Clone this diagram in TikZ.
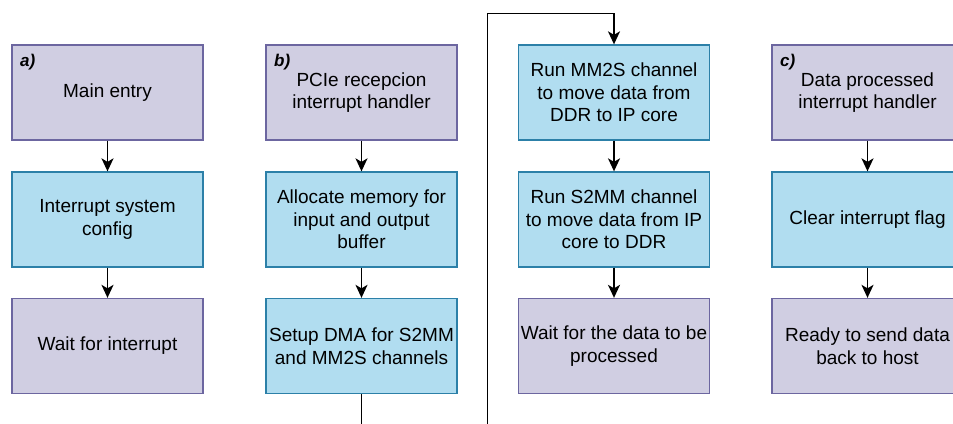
\documentclass[tikz,border=0pt]{standalone}
\usepackage{fontspec}
\setmainfont{Liberation Sans}
\usetikzlibrary{arrows.meta}
\definecolor{pfill}{HTML}{D0CEE2}
\definecolor{pdraw}{HTML}{6C66A0}
\definecolor{bfill}{HTML}{B1DDF0}
\definecolor{bdraw}{HTML}{2C80A8}
\begin{document}
\begin{tikzpicture}[x=1pt,y=-1pt,
 box/.style={draw, line width=1.3pt, minimum width=191pt, minimum height=95pt, align=center,
   font=\fontsize{19}{22.6}\selectfont, inner sep=0pt},
 pbox/.style={box, fill=pfill, draw=pdraw},
 bbox/.style={box, fill=bfill, draw=bdraw},
 arr/.style={-{Stealth[length=13pt,width=12pt,inset=3.5pt]}, line width=1.7pt},
 ln/.style={line width=1.7pt},
 tag/.style={font=\fontsize{17}{20}\selectfont\bfseries\itshape, anchor=west, inner sep=0pt}]
\useasboundingbox (0,0) rectangle (953,423);
\clip (0,0) rectangle (953,423);
% column a
\node[pbox] (a1) at (107.5,92.5) {Main entry};
\node[bbox] (a2) at (107.5,219.5) {Interrupt system\\config};
\node[pbox] (a3) at (107.5,346) {Wait for interrupt};
% column b
\node[pbox] (b1) at (361.5,92.5) {PCIe recepcion\\interrupt handler};
\node[bbox] (b2) at (361.5,219.5) {Allocate memory for\\input and output\\buffer};
\node[bbox] (b3) at (361.5,346) {Setup DMA for S2MM\\and MM2S channels};
% column b continued
\node[bbox] (m1) at (614,92.5) {Run MM2S channel\\to move data from\\DDR to IP core};
\node[bbox] (m2) at (614,219.5) {Run S2MM channel\\to move data from IP\\core to DDR};
\node[pbox] (m3) at (614,346) {Wait for the data to be\\processed};
% column c
\node[pbox] (c1) at (867.5,92.5) {Data processed\\interrupt handler};
\node[bbox] (c2) at (867.5,219.5) {Clear interrupt flag};
\node[pbox] (c3) at (867.5,346) {Ready to send data\\back to host};
% tags
\node[tag] (ta) at (20,62) {a)};
\node[tag] (tb) at (274,62) {b)};
\node[tag] (tc) at (780,62) {c)};
% arrows
\draw[arr] (a1) -- (a2);
\draw[arr] (a2) -- (a3);
\draw[arr] (b1) -- (b2);
\draw[arr] (b2) -- (b3);
\draw[arr] (m1) -- (m2);
\draw[arr] (m2) -- (m3);
\draw[arr] (c1) -- (c2);
\draw[arr] (c2) -- (c3);
% continuation connector
\coordinate (bout) at (361.5,424);
\coordinate (min) at (487.5,424);
\coordinate (top) at (487.5,13.5);
\draw[ln] (b3.south) -- (bout);
\draw[arr] (min) -- (top) -| (m1.north);
\end{tikzpicture}
\end{document}
